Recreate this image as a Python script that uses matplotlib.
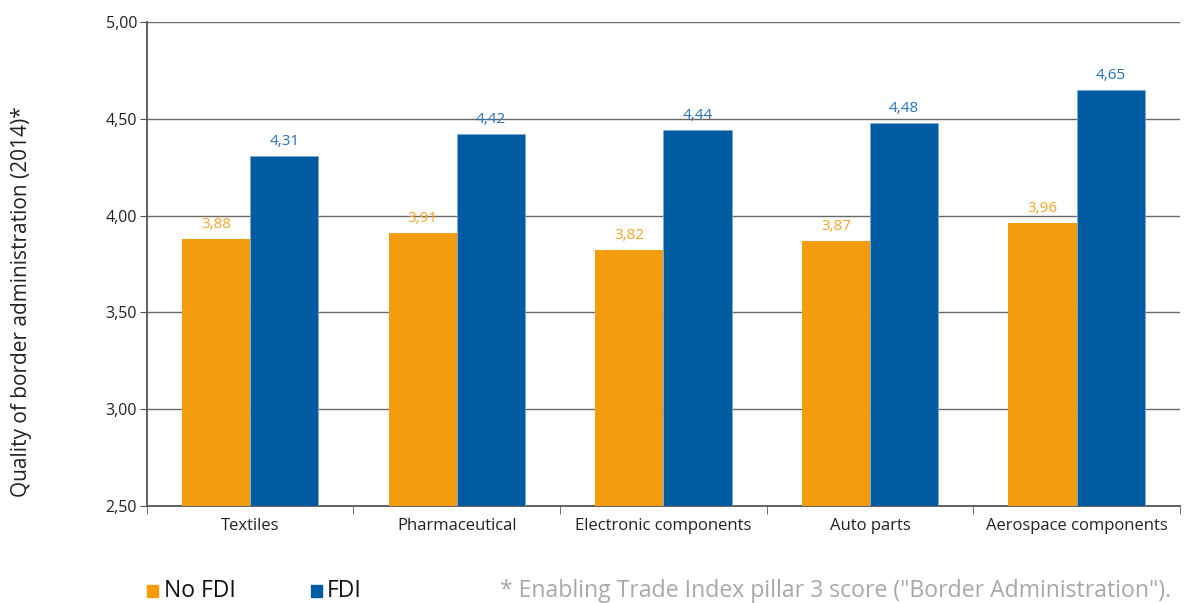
"""Quality of border administration by sector, with and without FDI"""
import matplotlib.pyplot as plt
from matplotlib.patches import Rectangle
from matplotlib.ticker import FuncFormatter, FixedLocator

sectors = ["Textiles", "Pharmaceutical", "Electronic components",
           "Auto parts", "Aerospace components"]
no_fdi = [3.88, 3.91, 3.82, 3.87, 3.96]
fdi = [4.31, 4.42, 4.44, 4.48, 4.65]
y_ticks = [2.5, 3.0, 3.5, 4.0, 4.5, 5.0]

ORANGE = "#F39C0E"
BLUE = "#005BA1"
ORANGE_TXT = "#F5A52A"
BLUE_TXT = "#2A70B8"
AXIS = "#555555"

plt.rcParams["font.family"] = ["Open Sans", "DejaVu Sans"]

fig = plt.figure(figsize=(11.84, 6.03), dpi=100)
ax = fig.add_axes([0.124, 0.161, 0.8726, 0.8025])

width = 0.33
x = range(len(sectors))
bars_no = ax.bar([i - width / 2 for i in x], no_fdi, width, color=ORANGE,
                 zorder=3)
bars_fdi = ax.bar([i + width / 2 for i in x], fdi, width, color=BLUE,
                  edgecolor="#7FA9D3", linewidth=0.6, zorder=3)

# Подписи значений над столбцами
for bars, vals, col in ((bars_no, no_fdi, ORANGE_TXT), (bars_fdi, fdi, BLUE_TXT)):
    for b, v in zip(bars, vals):
        ax.annotate(f"{v:.2f}".replace(".", ","),
                    (b.get_x() + b.get_width() / 2, v),
                    xytext=(0, 5), textcoords="offset points",
                    ha="center", va="bottom", color=col, fontsize=11)

ax.set_ylim(2.5, 5.0)
ax.set_xlim(-0.5, len(sectors) - 0.5)
ax.set_yticks(y_ticks)
ax.yaxis.set_major_formatter(FuncFormatter(lambda v, p: f"{v:.2f}".replace(".", ",")))
ax.grid(axis="y", color="#6a6a6a", linewidth=1.0, zorder=0)

ax.set_xticks(list(x))
ax.set_xticklabels(sectors)
ax.xaxis.set_minor_locator(FixedLocator([i - 0.5 for i in range(len(sectors) + 1)]))
ax.tick_params(axis="x", which="major", length=0, pad=9, labelsize=12,
               colors="#222222")
ax.tick_params(axis="x", which="minor", length=6, color=AXIS)
ax.tick_params(axis="y", length=5, color=AXIS, labelsize=11.5,
               labelcolor="#222222", pad=2)

for s in ("top", "right"):
    ax.spines[s].set_visible(False)
for s in ("left", "bottom"):
    ax.spines[s].set_color(AXIS)
    ax.spines[s].set_linewidth(1.3)

fig.text(0.018, 0.5, "Quality of border administration (2014)*",
         rotation=90, ha="center", va="center", fontsize=15, color="#222222")

# Легенда и сноска внизу
ly = 1 - 591 / 603
fig.patches.append(Rectangle((147 / 1184, ly - 6 / 603), 11 / 1184, 12 / 603,
                             transform=fig.transFigure, color=ORANGE))
fig.text(164 / 1184, ly, "No FDI", ha="left", va="center", fontsize=16.5,
         color="#111111")
fig.patches.append(Rectangle((311 / 1184, ly - 6 / 603), 11 / 1184, 12 / 603,
                             transform=fig.transFigure, color=BLUE))
fig.text(327 / 1184, ly, "FDI", ha="left", va="center", fontsize=16.5,
         color="#111111")
fig.text(500 / 1184, ly, '* Enabling Trade Index pillar 3 score ("Border Administration").',
         ha="left", va="center", fontsize=16.6, color="#a8a8a8")

fig.savefig("out.png", dpi=100)
